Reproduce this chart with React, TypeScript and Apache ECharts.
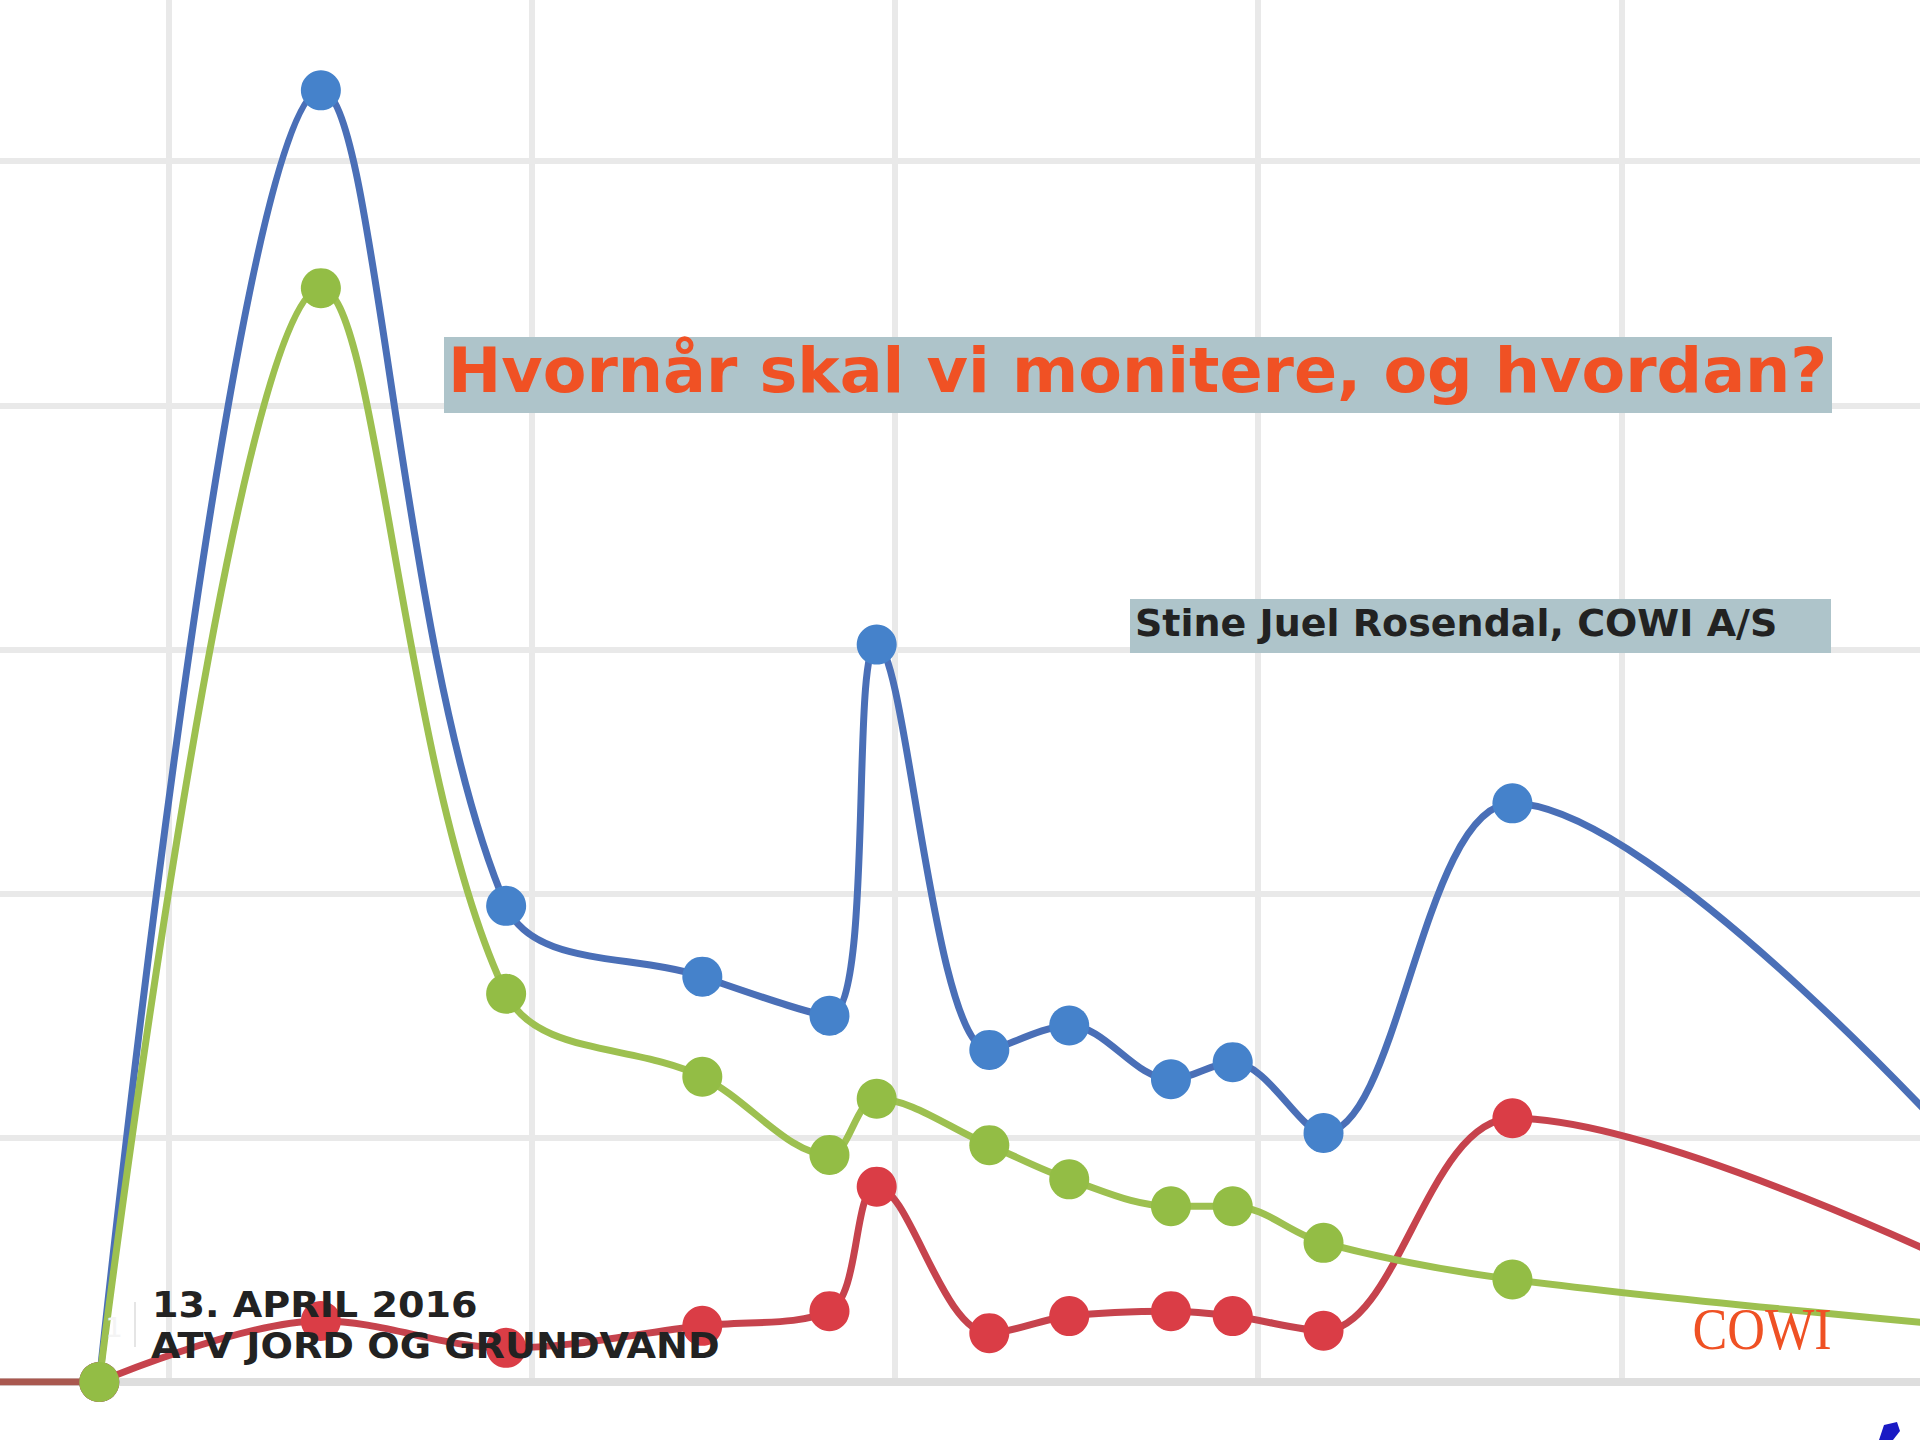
import React, { useEffect, useRef } from "react";
import * as echarts from "echarts";

// Sample positions (x, in chart units) shared by the three series
const xValues = [8.1, 14.2, 19.3, 24.7, 28.2, 29.5, 32.6, 34.8, 37.6, 39.3, 41.8, 47.0, 60.0];
const blueValues = [0, 52.9, 19.5, 16.6, 15.0, 30.2, 13.6, 14.6, 12.4, 13.1, 10.2, 23.7, 8.5];
const redValues = [0, 2.5, 1.4, 2.3, 2.9, 8.0, 2.0, 2.7, 2.9, 2.7, 2.1, 10.8, 4.3];
const greenValues = [0, 44.8, 15.9, 12.5, 9.3, 11.6, 9.7, 8.3, 7.2, 7.2, 5.7, 4.2, 2.2];

// Flat zero stretch before the first sample
const leadInX = [0, 8.1];
const leadInValues = [0, 0];

const titleText = "Hvornår skal vi monitere, og hvordan?";
const subtitleText = "Stine Juel Rosendal, COWI A/S";
const dateText = "13. APRIL 2016";
const eventText = "ATV JORD OG GRUNDVAND";
const slideNumber = "1";
const logoText = "COWI";

const X_MIN = 0;
const X_MAX = 70;
const X_INTERVAL = 10;
const Y_MIN = 0;
const Y_MAX = 60;
const Y_INTERVAL = 10;

function pairs(xs: number[], values: number[]) {
  return xs.map((x, i) => [x, values[i]]);
}

export default function App() {
  const ref = useRef<HTMLDivElement>(null);

  useEffect(() => {
    if (!ref.current) return;
    const chart = echarts.init(ref.current, undefined, { renderer: "svg" });
    const gridColor = "#e9e9e9";
    const smooth = 0.35;
    const lineSeries = (name: string, values: number[], line: string, fill: string, z: number) => ({
      name,
      type: "line",
      data: pairs(xValues, values),
      smooth,
      symbol: "circle",
      symbolSize: 40,
      lineStyle: { color: line, width: 7 },
      itemStyle: { color: fill },
      z,
    });
    const option: any = {
      animation: false,
      backgroundColor: "#ffffff",
      grid: {
        left: -195,
        right: -428,
        top: -83,
        bottom: 58,
        containLabel: false,
        outerBoundsMode: "none",
      },
      xAxis: {
        type: "value",
        min: X_MIN,
        max: X_MAX,
        interval: X_INTERVAL,
        axisLabel: { show: false },
        axisTick: { show: false },
        axisLine: { show: true, onZero: false, lineStyle: { color: "#dedede", width: 8 } },
        splitLine: { show: true, lineStyle: { color: gridColor, width: 6 } },
      },
      yAxis: {
        type: "value",
        min: Y_MIN,
        max: Y_MAX,
        interval: Y_INTERVAL,
        axisLabel: { show: false },
        axisTick: { show: false },
        axisLine: { show: false },
        splitLine: { show: true, lineStyle: { color: gridColor, width: 6 } },
      },
      series: [
        {
          name: "lead-in",
          type: "line",
          data: pairs(leadInX, leadInValues),
          symbol: "none",
          lineStyle: { color: "#a9584f", width: 7 },
          z: 2,
        },
        lineSeries("blue", blueValues, "#4a6fb7", "#4582cb", 3),
        lineSeries("red", redValues, "#c6434d", "#da3d46", 4),
        lineSeries("green", greenValues, "#9dc050", "#93bd45", 5),
      ],
      graphic: [
        {
          type: "rect",
          z: 100,
          shape: { x: 444, y: 337, width: 1388, height: 76 },
          style: { fill: "#aec4ca" },
        },
        {
          type: "text",
          z: 101,
          x: 448,
          y: 370,
          scaleX: 1.01,
          style: {
            text: titleText,
            fill: "#f05124",
            fontFamily: '"DejaVu Sans"',
            fontWeight: "bold",
            fontSize: 63,
            align: "left",
            verticalAlign: "middle",
          },
        },
        {
          type: "rect",
          z: 100,
          shape: { x: 1130, y: 599, width: 701, height: 54 },
          style: { fill: "#aec4ca" },
        },
        {
          type: "text",
          z: 101,
          x: 1135,
          y: 623,
          style: {
            text: subtitleText,
            fill: "#222222",
            fontFamily: '"DejaVu Sans"',
            fontWeight: "bold",
            fontSize: 38,
            align: "left",
            verticalAlign: "middle",
          },
        },
        {
          type: "text",
          z: 101,
          x: 152,
          y: 1305,
          scaleX: 1.09,
          style: {
            text: dateText,
            fill: "#222222",
            fontFamily: '"DejaVu Sans"',
            fontWeight: "bold",
            fontSize: 35,
            align: "left",
            verticalAlign: "middle",
          },
        },
        {
          type: "text",
          z: 101,
          x: 151,
          y: 1346,
          scaleX: 1.06,
          style: {
            text: eventText,
            fill: "#222222",
            fontFamily: '"DejaVu Sans"',
            fontWeight: "bold",
            fontSize: 36,
            align: "left",
            verticalAlign: "middle",
          },
        },
        {
          type: "text",
          z: 101,
          x: 114,
          y: 1327,
          style: {
            text: slideNumber,
            fill: "#f4f4f4",
            fontFamily: '"DejaVu Sans"',
            fontSize: 27,
            align: "center",
            verticalAlign: "middle",
          },
        },
        {
          type: "line",
          z: 101,
          shape: { x1: 135, y1: 1302, x2: 135, y2: 1347 },
          style: { stroke: "#dcdcdc", lineWidth: 1.5 },
        },
        {
          type: "text",
          z: 101,
          x: 1762,
          y: 1329,
          scaleX: 0.87,
          style: {
            text: logoText,
            fill: "#ef5124",
            fontFamily: '"Liberation Serif"',
            fontSize: 60,
            align: "center",
            verticalAlign: "middle",
          },
        },
        {
          type: "polygon",
          z: 101,
          shape: {
            points: [
              [1879, 1440],
              [1884, 1425],
              [1897, 1422],
              [1900, 1431],
              [1893, 1440],
            ],
          },
          style: { fill: "#1a1ac4" },
        },
      ],
    };
    chart.setOption(option);
    return () => chart.dispose();
  }, []);

  return (
    <div
      ref={ref}
      style={{ position: "absolute", left: 0, top: 0, width: 1920, height: 1440 }}
    />
  );
}
